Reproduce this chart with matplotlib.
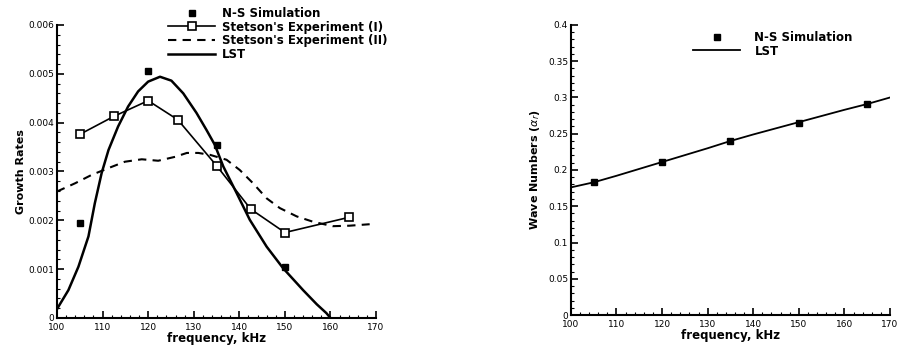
import matplotlib
matplotlib.use("Agg")
import matplotlib.pyplot as plt
from matplotlib.ticker import MultipleLocator, FuncFormatter

# ======== Growth rate data (left panel) ========
ns_freq = [105, 120, 135, 150]
ns_growth = [0.00195, 0.00506, 0.00355, 0.00105]

exp1_freq = [105, 112.5, 120, 126.5, 135, 142.5, 150, 164]
exp1_growth = [0.00376, 0.00413, 0.00445, 0.00406, 0.00312, 0.00223, 0.00175, 0.00206]

exp2_freq = [100, 104, 107.6, 111.3, 114.9, 118.6, 122.2, 125.9, 128.5, 131, 133.6,
             137.2, 140.1, 143, 146, 148.9, 152.6, 156.2, 160.5, 164.2, 168.6]
exp2_growth = [0.00259, 0.00276, 0.00293, 0.00307, 0.00320, 0.00325, 0.00322, 0.00330,
               0.00338, 0.00338, 0.00334, 0.00324, 0.00303, 0.00276, 0.00245, 0.00225,
               0.00208, 0.00197, 0.00188, 0.00189, 0.00192]

lst_freq = [100, 100.3, 102.5, 104.7, 106.9, 108.3, 109.8, 111.3, 113.4, 115.6, 117.8,
            120, 122.6, 125.1, 127.7, 130.6, 132.8, 134.6, 136.5, 139.4, 142.3, 146,
            149.6, 154, 157, 159.1, 160]
lst_growth = [0.00018, 0.00023, 0.00057, 0.00105, 0.00167, 0.00235, 0.00297, 0.00344,
              0.00392, 0.00433, 0.00464, 0.00484, 0.00494, 0.00486, 0.0046, 0.0042,
              0.00385, 0.00355, 0.0031, 0.00256, 0.00201, 0.00146, 0.00102, 0.00057,
              0.00028, 0.0001, 0.0]

# ======== Wave number data (right panel) ========
ns_wave_freq = [105, 120, 135, 150, 165]
ns_wave = [0.183, 0.211, 0.240, 0.265, 0.291]
lst_wave_freq = [100, 105, 110, 120, 130, 135, 140, 150, 160, 165, 170]
lst_wave = [0.176, 0.183, 0.192, 0.211, 0.230, 0.240, 0.249, 0.266, 0.283, 0.291, 0.300]

fig = plt.figure(figsize=(8.99, 3.47), dpi=100)
ax1 = fig.add_axes([0.0634, 0.0836, 0.3549, 0.8444])
ax2 = fig.add_axes([0.635, 0.0922, 0.355, 0.8358])

def style_axis(ax):
    ax.spines['top'].set_visible(False)
    ax.spines['right'].set_visible(False)
    ax.spines['left'].set_linewidth(1.5)
    ax.spines['bottom'].set_linewidth(1.5)
    ax.tick_params(which='both', direction='in', labelsize=6.5, pad=2)
    ax.tick_params(axis='x', pad=3.5)
    ax.tick_params(which='major', length=5, width=1.2)
    ax.tick_params(which='minor', length=2.5, width=0.8)
    ax.xaxis.set_major_locator(MultipleLocator(10))
    ax.xaxis.set_minor_locator(MultipleLocator(2))
    ax.set_xlim(100, 170)
    ax.set_xlabel("frequency, kHz", fontsize=8.5, fontweight='bold', labelpad=0)

def tick_fmt(v, pos):
    if abs(v) < 1e-12:
        return "0"
    return "%g" % round(v, 6)

# ---- left panel ----
style_axis(ax1)
ax1.plot(ns_freq, ns_growth, 's', color='black', markersize=5, label='N-S Simulation')
ax1.plot(exp1_freq, exp1_growth, '-s', color='black', lw=1.2, markersize=6,
         markerfacecolor='white', markeredgewidth=1.2, label="Stetson's Experiment (I)")
ax1.plot(exp2_freq, exp2_growth, '--', color='black', lw=1.5, dashes=(4, 3),
         label="Stetson's Experiment (II)")
ax1.plot(lst_freq, lst_growth, '-', color='black', lw=1.8, label='LST')
ax1.set_ylim(0, 0.006)
ax1.yaxis.set_major_locator(MultipleLocator(0.001))
ax1.yaxis.set_minor_locator(MultipleLocator(0.0002))
ax1.yaxis.set_major_formatter(FuncFormatter(tick_fmt))
ax1.set_ylabel("Growth Rates", fontsize=8, fontweight='bold', labelpad=2)
fig.legend(handles=ax1.get_lines(), loc='upper left', bbox_to_anchor=(168 / 899, 1 - 7 / 347),
           frameon=False, prop={'weight': 'bold', 'size': 8.5},
           handlelength=4, handletextpad=0.6, labelspacing=0.05, borderpad=0, borderaxespad=0)

# ---- right panel ----
style_axis(ax2)
ax2.plot(ns_wave_freq, ns_wave, 's', color='black', markersize=5, label='N-S Simulation')
ax2.plot(lst_wave_freq, lst_wave, '-', color='black', lw=1.3, label='LST')
ax2.set_ylim(0, 0.4)
ax2.yaxis.set_major_locator(MultipleLocator(0.05))
ax2.yaxis.set_minor_locator(MultipleLocator(0.01))
ax2.yaxis.set_major_formatter(FuncFormatter(tick_fmt))
ax2.set_ylabel(r"Wave Numbers ($\alpha_r$)", fontsize=8, fontweight='bold', labelpad=4)
fig.legend(handles=ax2.get_lines(), loc='upper left', bbox_to_anchor=(693 / 899, 1 - 31 / 347),
           frameon=False, prop={'weight': 'bold', 'size': 8.5},
           handlelength=4, handletextpad=1.2, labelspacing=0.05, borderpad=0, borderaxespad=0)

plt.savefig("out.png", dpi=100)
